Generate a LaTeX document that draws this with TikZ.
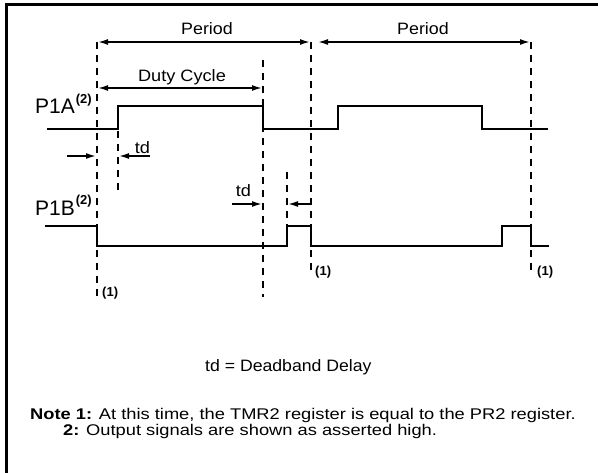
\documentclass[tikz,border=0pt]{standalone}
\usepackage{graphicx}
\usepackage{fontspec}
\setmainfont{Liberation Sans}
\usetikzlibrary{arrows.meta}
\newcommand{\hsx}[2]{\scalebox{#1}[1]{#2}}
\tikzset{
  sig/.style={line width=1.8pt, line join=miter},
  dl/.style={line width=1.8pt, dash pattern=on 7pt off 6pt},
  dimarrow/.style={line width=1.6pt, {Latex[length=10pt,width=6pt]}-{Latex[length=10pt,width=6pt]}},
  tdarrow/.style={line width=1.6pt, -{Latex[length=10pt,width=6pt]}},
  lbl/.style={inner sep=0pt, anchor=base, font=\fontsize{16.5}{18}\selectfont},
  signame/.style={inner sep=0pt, anchor=base west, font=\fontsize{21}{23}\selectfont},
  supnote/.style={inner sep=0pt, anchor=base west, font=\fontsize{13}{15}\selectfont\bfseries},
  notetext/.style={inner sep=0pt, anchor=base west, font=\fontsize{15.5}{17}\selectfont},
}
\begin{document}
\begin{tikzpicture}[x=1pt,y=-1pt]
\useasboundingbox (0,0) rectangle (598,472);
% frame
\draw[line width=3pt] (6.5,490) -- (6.5,4) -- (620,4);

% dashed time markers
\coordinate (d1t) at (97,42);  \coordinate (d1b) at (97,297);
\coordinate (d2t) at (263,60); \coordinate (d2b) at (263,297);
\coordinate (d3t) at (311,42); \coordinate (d3b) at (311,273);
\coordinate (d4t) at (531,42); \coordinate (d4b) at (531,273);
\coordinate (s1t) at (118,131); \coordinate (s1b) at (118,192);
\coordinate (s2t) at (287,172); \coordinate (s2b) at (287,226);
\draw[dl] (d1t) -- (d1b);
\draw[dl] (d2t) -- (d2b);
\draw[dl] (d3t) -- (d3b);
\draw[dl] (d4t) -- (d4b);
\draw[dl] (s1t) -- (s1b);
\draw[dl] (s2t) -- (s2b);

% Period / Duty Cycle arrows
\coordinate (pa1) at (98,42); \coordinate (pb1) at (310,42);
\coordinate (pa2) at (318,42); \coordinate (pb2) at (530,42);
\coordinate (da) at (98,88); \coordinate (db) at (262,88);
\draw[dimarrow] (pa1) -- (pb1);
\draw[dimarrow] (pa2) -- (pb2);
\draw[dimarrow] (da) -- (db);
\node[lbl] (per1) at (207,34) {\hsx{1.08}{Period}};
\node[lbl] (per2) at (423,34) {\hsx{1.08}{Period}};
\node[lbl] (duty) at (182,81.5) {\hsx{1.1}{Duty Cycle}};

% P1A
\node[signame] (p1a) at (35,113) {P1A};
\node[supnote] (p1as) at (p1a.base east) [yshift=9.5pt, xshift=0.5pt] {(2)};
\draw[sig] (47,129) -- (118,129) -- (118,106) -- (263,106) -- (263,129)
  -- (338,129) -- (338,106) -- (482,106) -- (482,129) -- (548,129);

% P1B
\node[signame] (p1b) at (35,215) {P1B};
\node[supnote] (p1bs) at (p1b.base east) [yshift=10.5pt, xshift=0.5pt] {(2)};
\draw[sig] (45,226) -- (97,226) -- (97,246) -- (287,246) -- (287,226)
  -- (311,226) -- (311,246) -- (502,246) -- (502,226) -- (531,226)
  -- (531,246) -- (549,246);

% td arrows
\coordinate (t1a) at (67,156); \coordinate (t1b) at (96,156);
\coordinate (t2a) at (150,156); \coordinate (t2b) at (119,156);
\coordinate (t3a) at (232,204); \coordinate (t3b) at (262,204);
\coordinate (t4a) at (311,204); \coordinate (t4b) at (288,204);
\draw[tdarrow] (t1a) -- (t1b);
\draw[tdarrow] (t2a) -- (t2b);
\draw[tdarrow] (t3a) -- (t3b);
\draw[tdarrow] (t4a) -- (t4b);
\node[lbl] (td1) at (142.5,153) {\hsx{1.1}{td}};
\node[lbl] (td2) at (243.5,196) {\hsx{1.1}{td}};

% (1) markers
\node[supnote] (m1) at (102,296) {(1)};
\node[supnote] (m2) at (315,275) {(1)};
\node[supnote] (m3) at (537,275) {(1)};

% legend and notes
\node[notetext, font=\fontsize{16.5}{18}\selectfont] (legend) at (205,371) {\hsx{1.07}{td = Deadband Delay}};
\node[notetext] (n1) at (30,419) {\hsx{1.18}{\textbf{Note 1:} At this time, the TMR2 register is equal to the PR2 register.}};
\node[notetext] (n2) at (63,435) {\hsx{1.18}{\textbf{2:} Output signals are shown as asserted high.}};
\end{tikzpicture}
\end{document}
